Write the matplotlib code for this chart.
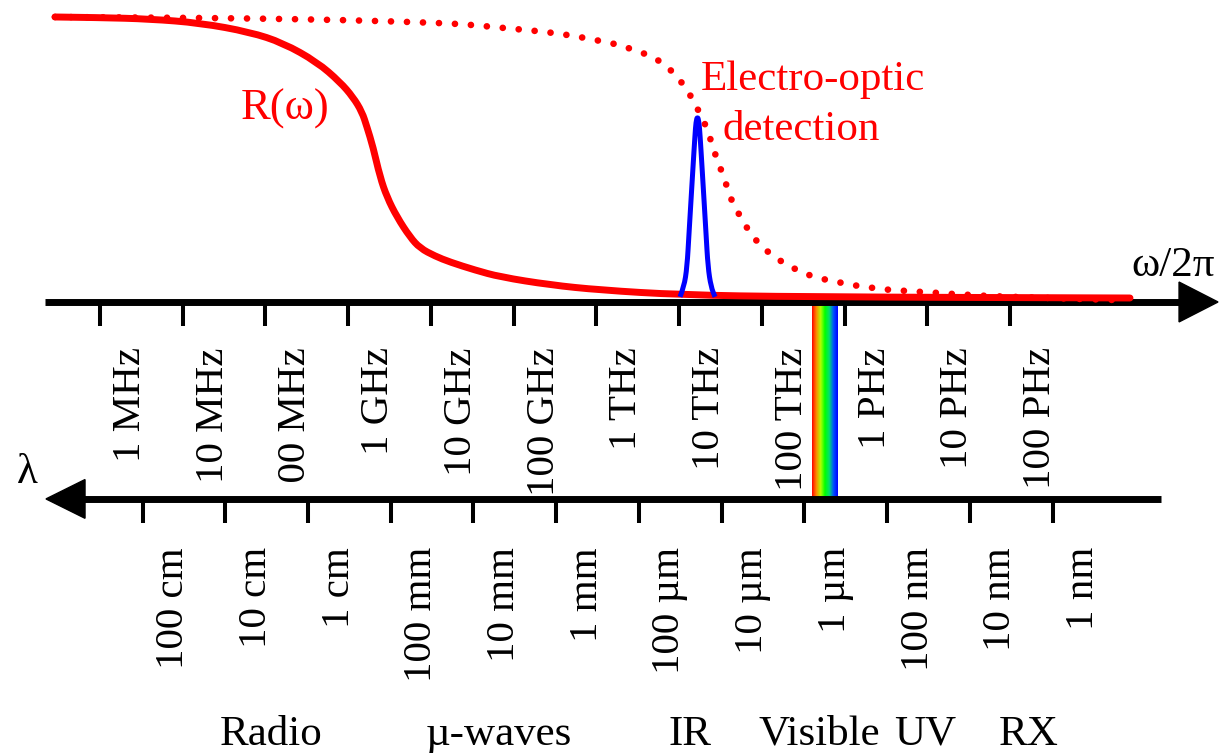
import numpy as np
import matplotlib
matplotlib.use('Agg')
import matplotlib.pyplot as plt
from matplotlib.colors import LinearSegmentedColormap
from matplotlib.transforms import Bbox, TransformedBbox
from matplotlib.path import Path
from matplotlib.patches import PathPatch

plt.rcParams['font.family'] = ['Liberation Serif', 'DejaVu Serif']

# x = log10(frequency / Hz), y = normalised response (0 on the frequency axis)
r_omega_x = [5.456, 6.000, 6.604, 7.209, 7.813, 8.212, 8.623, 8.901, 9.058, 9.167,
             9.227, 9.300, 9.385, 9.469, 9.590, 9.747, 9.868, 10.050, 10.231,
             10.533, 10.835, 11.439, 12.044, 13.011, 14.461, 18.450]
r_omega_y = [1.000, 0.998, 0.993, 0.979, 0.947, 0.909, 0.842, 0.772, 0.719, 0.667,
             0.614, 0.544, 0.439, 0.368, 0.298, 0.228, 0.189, 0.161, 0.140,
             0.112, 0.088, 0.060, 0.042, 0.025, 0.018, 0.014]

eo_x = [5.456, 6.604, 7.813, 9.022, 10.134, 10.509, 10.895, 11.282, 11.669, 12.044,
        12.237, 12.418, 12.600, 12.769, 12.926, 13.047, 13.156, 13.241, 13.325,
        13.386, 13.446, 13.518, 13.579, 13.639, 13.736, 13.833, 13.954, 14.087,
        14.244, 14.425, 14.594, 14.788, 14.969, 15.162, 15.356, 15.549, 15.743,
        15.936, 16.129, 16.311, 16.516, 16.709, 17.483, 18.269]
eo_y = [1.000, 0.998, 0.995, 0.989, 0.979, 0.972, 0.961, 0.951, 0.937, 0.916,
        0.905, 0.888, 0.870, 0.846, 0.807, 0.765, 0.716, 0.667, 0.618,
        0.565, 0.509, 0.456, 0.404, 0.351, 0.302, 0.253, 0.207, 0.172,
        0.140, 0.112, 0.091, 0.077, 0.067, 0.056, 0.049, 0.042, 0.039,
        0.035, 0.032, 0.028, 0.025, 0.021, 0.014, 0.007]

pulse_x = [13.011, 13.059, 13.096, 13.120, 13.168, 13.192, 13.204, 13.222,
           13.240, 13.253, 13.277, 13.325, 13.349, 13.386, 13.434]
pulse_y = [0.018, 0.053, 0.123, 0.242, 0.474, 0.586, 0.632, 0.652,
           0.632, 0.586, 0.474, 0.242, 0.123, 0.053, 0.018]

freq_ticks = [6, 7, 8, 9, 10, 11, 12, 13, 14, 15, 16, 17]
freq_labels = ['1 MHz', '10 MHz', '100 MHz', '1 GHz', '10 GHz', '100 GHz',
               '1 THz', '10 THz', '100 THz', '1 PHz', '10 PHz', '100 PHz']
lambda_ticks = [6.514, 7.514, 8.514, 9.514, 10.514, 11.514,
                12.514, 13.514, 14.514, 15.514, 16.514, 17.514]
lambda_labels = ['100 cm', '10 cm', '1 cm', '100 mm', '10 mm', '1 mm',
                 '100 µm', '10 µm', '1 µm', '100 nm', '10 nm', '1 nm']
bands = ['Radio', 'µ-waves', 'IR', 'Visible', 'UV', 'RX']
band_x = [8.067, 10.823, 13.132, 14.691, 15.972, 17.229]
visible_band = (14.606, 14.909)

TICK_FS = 29.5
FS = 31
LAM_Y = -0.691


def smooth_path(xs, ys):
    # quadratic bezier through the midpoints, the read points act as control points
    pts = list(zip(xs, ys))
    verts = [pts[0]]
    codes = [Path.MOVETO]
    for i in range(1, len(pts) - 1):
        mid = ((pts[i][0] + pts[i + 1][0]) / 2, (pts[i][1] + pts[i + 1][1]) / 2)
        verts += [pts[i], mid]
        codes += [Path.CURVE3, Path.CURVE3]
    verts.append(pts[-1])
    codes.append(Path.LINETO)
    return Path(verts, codes)


fig = plt.figure(figsize=(12.2, 7.53), dpi=100)
ax = fig.add_axes([0, 0, 1, 1])
ax.set_axis_off()

# rainbow for the visible range
rainbow = LinearSegmentedColormap.from_list(
    'vis', ['#ff0000', '#ff8800', '#b0ff00', '#00ff00', '#00e070', '#0050ff', '#0000ff'])
ax.imshow(np.linspace(0, 1, 256)[None, :], cmap=rainbow, aspect='auto',
          extent=[visible_band[0], visible_band[1], LAM_Y, 0], zorder=1)

# frequency axis (arrow to the right)
ax.plot([5.335, 19.06], [0, 0], color='black', lw=5, solid_capstyle='butt', zorder=2)
ax.fill([19.043, 19.514, 19.043], [0.070, 0, -0.070], color='black', zorder=2)
for t in freq_ticks:
    ax.plot([t, t], [0, -0.084], color='black', lw=2.9, solid_capstyle='butt', zorder=2)

# wavelength axis (arrow to the left)
ax.plot([5.80, 18.825], [LAM_Y, LAM_Y], color='black', lw=5, solid_capstyle='butt', zorder=2)
ax.fill([5.819, 5.347, 5.819], [LAM_Y + 0.068, LAM_Y, LAM_Y - 0.068], color='black', zorder=2)
for t in lambda_ticks:
    ax.plot([t, t], [LAM_Y, LAM_Y - 0.084], color='black', lw=2.9, solid_capstyle='butt', zorder=2)

# curves
ax.add_patch(PathPatch(smooth_path(r_omega_x, r_omega_y), fill=False, edgecolor='#ff0000',
                       lw=5, capstyle='round', joinstyle='round', zorder=3))
ax.add_patch(PathPatch(smooth_path(eo_x, eo_y), fill=False, edgecolor='#ff0000',
                       lw=4.8, linestyle=(0, (0.01, 2.39)), capstyle='round', zorder=3))
ax.add_patch(PathPatch(smooth_path(pulse_x, pulse_y), fill=False, edgecolor='#0000ff',
                       lw=3.6, joinstyle='round', zorder=4))

ax.set_xlim(4.7913, 19.538)
ax.set_ylim(-1.5825, 1.0596)

# labels running into the wavelength axis are cut off just above it
for t, lab in zip(freq_ticks, freq_labels):
    bottom = -0.642 if lab == '100 MHz' else -0.677
    txt = ax.text(t + 0.4835, -0.158, lab, rotation=90, rotation_mode='anchor',
                  ha='right', va='baseline', fontsize=TICK_FS)
    txt.set_clip_box(TransformedBbox(Bbox([[4.79, bottom], [19.54, 1.06]]), ax.transData))
    txt.set_clip_on(True)
for t, lab in zip(lambda_ticks, lambda_labels):
    ax.text(t + 0.49, -0.860, lab, rotation=90, rotation_mode='anchor',
            ha='right', va='baseline', fontsize=TICK_FS)
for x, lab in zip(band_x, bands):
    ax.text(x, -1.554, lab, ha='center', va='baseline', fontsize=FS)

ax.text(8.242, 0.642, 'R(ω)', color='#ff0000', ha='center', va='baseline', fontsize=FS + 1)
ax.text(14.612, 0.744, 'Electro-optic', color='#ff0000', ha='center', va='baseline', fontsize=FS)
ax.text(14.479, 0.568, 'detection', color='#ff0000', ha='center', va='baseline', fontsize=FS)
ax.text(19.478, 0.091, 'ω/2π', ha='right', va='baseline', fontsize=FS)
ax.text(5.124, -0.635, 'λ', ha='center', va='baseline', fontsize=FS)

fig.savefig('out.png', dpi=100)
